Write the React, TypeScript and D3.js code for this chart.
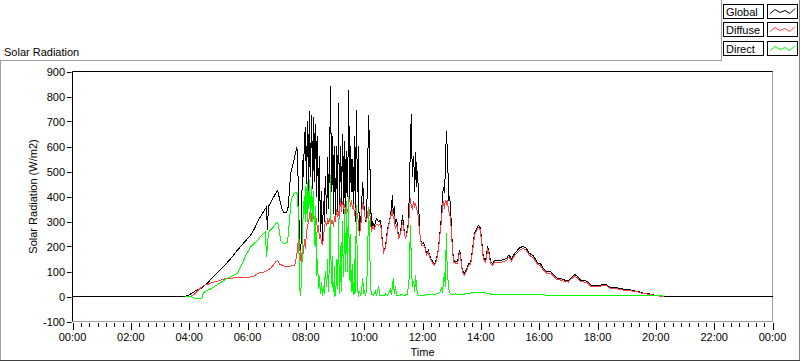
import React from "react";
import * as d3 from "d3";

// [minute of day, W/m2]
const globalData: [number, number][] = [
  [0,0],[232,0],[239,5],[247,15],[255,25],[263,30],[269,40],[278,55],[288,75],[300,100],[313,125],[325,150],[337,180],[348,205],[356,222],[364,240],[368,250],[374,270],[381,300],[387,320],[393,340],[397,352],[399,357],[401,265],[403,360],[407,372],[413,395],[420,420],[422,424],[426,390],[430,355],[434,337],[440,335],[444,360],[446,420],[448,470],[450,505],[453,524],[455,540],[457,560],[459,575],[461,597],[463,580],[465,360],[467,245],[469,150],[471,260],[473,545],[475,480],[477,620],[479,677],
  [480,600],[481,450],[482,520],[483,700],[484,560],[485,650],[486,420],[487,600],[488,740],[489,520],[490,480],[491,650],[492,724],[493,580],[494,430],[495,520],[496,717],[497,640],[498,460],[499,560],[500,690],[501,620],[502,400],[503,480],[504,640],[505,520],[506,300],
  [508,560],[510,260],[512,420],[514,217],[516,380],[518,300],[520,480],[523,330],[525,557],[526,450],[527,350],[528,500],[529,600],[530,700],[531,840],[532,600],[533,420],[534,450],[535,640],[536,560],[537,330],[538,420],[539,600],[540,480],[541,300],[542,420],[543,520],[544,600],[545,340],[546,500],[547,772],[548,600],[549,330],[550,450],[551,600],[552,520],[553,360],[554,420],[555,650],[556,500],[557,560],[558,330],[559,450],[560,620],[561,500],[562,350],[563,450],[564,580],[565,520],[566,400],[567,600],[568,824],[569,650],[570,380],[571,500],[572,600],[573,450],[574,420],[575,550],[576,480],[577,420],[578,360],[579,500],[580,640],[581,450],[582,300],[583,550],[584,744],[585,600],[586,420],[587,500],[588,600],[589,400],[590,244],
  [593,300],[595,380],[597,457],[599,380],[601,330],[603,300],[605,320],[607,480],[609,724],[611,600],[613,420],[615,257],[617,300],[621,280],[625,310],[630,300],[634,305],[636,250],[640,177],[644,200],[648,270],[652,300],[656,350],[658,404],[660,330],[662,360],[664,290],[667,310],[671,232],[675,260],[679,324],[681,280],[685,232],[689,270],[691,297],[693,420],[695,600],[697,728],[698,600],[699,480],[700,520],[702,560],[703,480],[704,420],[705,500],[706,577],[707,520],[708,440],[709,480],[710,500],[712,380],[714,257],[718,212],[722,215],[726,195],[728,172],[732,185],[736,156],[741,140],[745,132],[749,150],[753,196],[757,280],[759,317],[761,400],[763,437],[765,413],[767,500],[768,580],[769,660],[770,620],[771,600],[774,384],[776,400],[778,344],[780,252],[782,190],[784,144],[788,140],[792,138],[796,184],[798,170],[802,104],[806,92],[811,110],[815,132],[819,135],[823,190],[827,252],[831,270],[835,284],[839,275],[841,237],[845,160],[850,144],[854,197],[856,190],[860,140],[864,132],[868,145],[874,144],[880,144],[887,148],[893,152],[897,164],[901,160],[903,150],[907,165],[913,180],[920,195],[926,200],[932,196],[936,185],[940,172],[944,168],[948,164],[952,150],[957,135],[963,130],[969,112],[975,100],[983,100],[989,90],[996,74],[1004,72],[1012,66],[1020,64],[1026,75],[1033,88],[1039,80],[1045,66],[1053,64],[1059,60],[1066,46],[1074,44],[1080,42],[1090,48],[1099,46],[1107,36],[1117,35],[1127,33],[1136,27],[1148,27],[1156,22],[1164,21],[1173,14],[1185,11],[1193,8],[1201,4],[1210,3],[1214,0],[1440,0]
];

const diffuseData: [number, number][] = [
  [243,0],[251,10],[259,25],[269,44],[280,50],[290,57],[300,62],[311,70],[321,72],[331,74],[341,76],[352,75],[360,76],[366,78],[374,82],[381,92],[387,97],[395,98],[401,105],[407,112],[413,125],[418,138],[422,144],[426,130],[432,124],[438,120],[444,118],[450,122],[457,125],[461,160],[463,192],[465,240],[467,220],[469,150],[471,137],[473,200],[475,170],[477,230],[479,190],[481,250],[483,280],[486,300],[488,330],[490,352],[492,300],[494,340],[496,310],[498,320],[500,290],[502,312],[504,260],[506,284],[508,232],[510,250],[512,217],[514,210],[516,230],[518,270],[520,300],[523,284],[525,312],[527,290],[529,310],[531,320],[533,290],[535,300],[537,280],[539,320],[541,300],[543,350],[545,320],[547,340],[549,310],[551,392],[553,340],[555,380],[558,350],[560,370],[562,330],[564,352],[566,340],[568,370],[570,390],[572,360],[574,385],[576,350],[578,370],[580,324],[582,352],[584,340],[586,330],[588,300],[590,244],[593,280],[595,340],[597,376],[599,360],[601,320],[603,312],[605,300],[607,330],[609,352],[611,345],[613,300],[615,257],[617,280],[621,270],[625,290],[630,285],[634,290],[636,240],[640,177],[644,195],[648,260],[652,300],[656,330],[658,350],[660,310],[662,320],[664,270],[667,290],[671,232],[675,255],[679,297],[681,270],[685,232],[689,260],[691,284],[693,330],[695,392],[697,360],[699,352],[702,380],[704,360],[706,370],[708,350],[710,340],[712,300],[714,257],[718,204],[722,205],[726,190],[728,166],[732,178],[736,150],[741,134],[745,126],[749,144],[753,190],[757,270],[759,300],[761,360],[763,380],[765,350],[767,384],[769,370],[771,384],[774,340],[776,330],[778,300],[780,240],[782,180],[784,138],[788,134],[792,132],[796,176],[798,162],[802,98],[806,86],[811,104],[815,126],[819,128],[823,182],[827,244],[831,262],[835,276],[839,266],[841,228],[845,152],[850,136],[854,188],[856,182],[860,132],[864,124],[868,138],[874,137],[880,136],[887,140],[893,144],[897,156],[901,152],[903,142],[907,157],[913,172],[920,186],[926,192],[932,188],[936,177],[940,164],[944,160],[948,156],[952,142],[957,128],[963,122],[969,105],[975,94],[983,94],[989,84],[996,68],[1004,66],[1012,60],[1020,58],[1026,70],[1033,82],[1039,74],[1045,60],[1053,58],[1059,55],[1066,41],[1074,40],[1080,38],[1090,44],[1099,42],[1107,32],[1117,31],[1127,29],[1136,24],[1148,24],[1156,19],[1164,18],[1173,12],[1185,9],[1193,6],[1201,3],[1210,1],[1214,0]
];

const directData: [number, number][] = [
  [232,0],[243,0],[249,-5],[255,-9],[263,-10],[267,-6],[269,15],[276,24],[284,30],[290,37],[300,50],[311,64],[321,75],[331,85],[339,92],[346,120],[352,144],[358,170],[366,197],[372,210],[381,224],[387,240],[393,252],[397,258],[399,157],[401,200],[403,256],[407,265],[413,277],[418,290],[422,297],[426,260],[428,224],[432,215],[434,212],[438,212],[442,217],[444,250],[446,300],[448,340],[450,392],[453,397],[455,410],[459,416],[463,411],[465,300],[467,40],[469,4],[471,60],[473,200],[475,380],[477,330],[479,440],
  [480,300],[481,380],[482,420],[483,457],[484,300],[485,420],[486,350],[487,380],[488,470],[489,300],[490,400],[491,350],[492,440],[493,380],[494,300],[495,330],[496,420],[497,300],[498,250],[499,200],[500,360],[501,250],[502,84],
  [504,150],[506,32],[508,80],[510,10],[512,56],[514,4],[516,40],[518,10],[520,100],[523,40],[525,150],[526,20],[527,60],[528,100],[529,200],[530,300],[531,484],[532,50],[533,100],[534,80],[535,160],[536,30],[537,20],[538,60],[539,120],[540,0],[541,10],[542,40],[543,80],[544,150],[545,30],[546,100],[547,312],[548,150],[549,60],[550,10],[551,200],[552,80],[553,20],[554,150],[555,300],[556,200],[557,120],[558,80],[559,250],[560,350],[561,100],[562,150],[563,300],[564,380],[565,100],[566,200],[567,300],[568,400],[569,200],[570,120],[571,60],[572,250],[573,100],[574,30],[575,20],[576,128],[577,60],[578,5],[579,40],[580,150],[581,10],[582,40],[583,200],[584,364],[585,250],[586,100],[587,30],[588,0],
  [590,20],[593,5],[595,30],[597,72],[599,10],[601,20],[603,2],[605,30],[607,150],[609,352],[611,250],[613,40],[615,10],[619,5],[623,20],[625,5],[630,40],[632,5],[636,3],[640,2],[644,10],[648,5],[654,30],[656,5],[660,72],[662,10],[664,40],[667,5],[671,3],[677,8],[683,4],[689,10],[693,80],[695,284],[697,150],[699,40],[702,60],[704,20],[706,84],[708,30],[710,6],[716,4],[726,6],[736,8],[747,10],[753,12],[757,20],[759,36],[761,15],[763,50],[765,92],[767,40],[769,252],[771,100],[774,30],[776,15],[780,8],[788,10],[798,8],[808,10],[819,14],[835,15],[850,14],[860,10],[880,10],[922,10],[969,9],[971,6],[1004,5],[1086,4],[1168,3],[1214,2],[1216,0]
];

const seriesNames = ["Global", "Diffuse", "Direct"];
const seriesColors = ["#000000", "#ff4040", "#00ff00"];
const seriesData = [globalData, diffuseData, directData];

const yTicks = [-100, 0, 100, 200, 300, 400, 500, 600, 700, 800, 900];
const xMajorMinutes = [0, 120, 240, 360, 480, 600, 720, 840, 960, 1080, 1200, 1320, 1440];
const xTickLabels = ["00:00", "02:00", "04:00", "06:00", "08:00", "10:00", "12:00", "14:00", "16:00", "18:00", "20:00", "22:00", "00:00"];
const minorPerMajor = 7;

const title = "Solar Radiation";
const yLabel = "Solar Radiation (W/m2)";
const xLabel = "Time";

const FONT = "'Liberation Sans', Arial, sans-serif";

export default function App() {
  const W = 800, H = 361;
  const left = 72.5, right = 772.5, top = 71.5, bottom = 321.5;
  const x = d3.scaleLinear().domain([0, 1440]).range([left, right]);
  const y = d3.scaleLinear().domain([-100, 900]).range([bottom, top]);
  const line = d3.line<[number, number]>().x(d => x(d[0])).y(d => y(d[1]));

  const minorTicks: number[] = [];
  for (let i = 0; i < xMajorMinutes.length - 1; i++) {
    const a = xMajorMinutes[i], b = xMajorMinutes[i + 1];
    for (let k = 1; k < minorPerMajor; k++) minorTicks.push(a + ((b - a) * k) / minorPerMajor);
  }

  const legendRows = [4.5, 22.5, 41.5];

  return (
    <div>
      <style>{`body{margin:0;background:#fff}`}</style>
      <svg width={W} height={H} style={{ display: "block" }} fontFamily={FONT}>
        <rect x={0} y={0} width={W} height={H} fill="#fff" />
        {/* panel frame */}
        <line x1={0} y1={60.5} x2={722} y2={60.5} stroke="#a0a0a0" />
        <line x1={721.5} y1={0} x2={721.5} y2={61} stroke="#a0a0a0" />
        <line x1={0.5} y1={60} x2={0.5} y2={361} stroke="#a0a0a0" />
        <line x1={799.5} y1={0} x2={799.5} y2={361} stroke="#808080" />
        <line x1={0} y1={360.5} x2={800} y2={360.5} stroke="#404040" />

        <text x={4} y={56} fontSize={11} fill="#000">{title}</text>

        {/* legend */}
        {seriesNames.map((n, i) => (
          <g key={n}>
            <rect x={723.5} y={legendRows[i]} width={40} height={14} fill="#fff" stroke="#000" />
            <text x={726} y={legendRows[i] + 11} fontSize={11} fill="#000">{n}</text>
            <rect x={767.5} y={legendRows[i]} width={30} height={14} fill="#fff" stroke="#000" />
            <polyline
              points={[[770, 9], [775, 5], [780, 8], [785, 6], [790, 9], [795, 4]].map(p => `${p[0]},${legendRows[i] + p[1]}`).join(" ")}
              fill="none" stroke={seriesColors[i]} strokeWidth={1}
            />
          </g>
        ))}

        {/* plot frame */}
        <line x1={left} y1={top} x2={right + 0.5} y2={top} stroke="#000" />
        <line x1={left} y1={top} x2={left} y2={bottom} stroke="#000" />
        <line x1={right} y1={top} x2={right} y2={bottom + 0.5} stroke="#a0a0a0" />
        <line x1={left} y1={bottom} x2={right} y2={bottom} stroke="#a0a0a0" />

        {/* series */}
        <g shapeRendering="crispEdges">
          {seriesData.map((d, i) => (
            <path key={i} d={line(d) || ""} fill="none" stroke={seriesColors[i]} strokeWidth={1} />
          ))}
        </g>

        {/* y axis */}
        {yTicks.map(t => (
          <g key={t}>
            <line x1={67} x2={71.5} y1={Math.round(y(t)) + 0.5} y2={Math.round(y(t)) + 0.5} stroke="#000" />
            <text x={65} y={y(t) + 4} fontSize={11} textAnchor="end" fill="#000">{t}</text>
          </g>
        ))}
        <text transform={`translate(37,${(top + bottom) / 2}) rotate(-90)`} fontSize={11} textAnchor="middle" fill="#000">{yLabel}</text>

        {/* x axis */}
        {xMajorMinutes.map((m, i) => (
          <g key={i}>
            <line x1={Math.round(x(m)) + 0.5} x2={Math.round(x(m)) + 0.5} y1={323} y2={330} stroke="#000" />
            <text x={x(m)} y={341} fontSize={11} textAnchor="middle" fill="#000">{xTickLabels[i]}</text>
          </g>
        ))}
        {minorTicks.map((m, i) => (
          <line key={i} x1={Math.round(x(m)) + 0.5} x2={Math.round(x(m)) + 0.5} y1={323} y2={327} stroke="#000" />
        ))}
        <text x={(left + right) / 2} y={356} fontSize={11} textAnchor="middle" fill="#000">{xLabel}</text>
      </svg>
    </div>
  );
}
